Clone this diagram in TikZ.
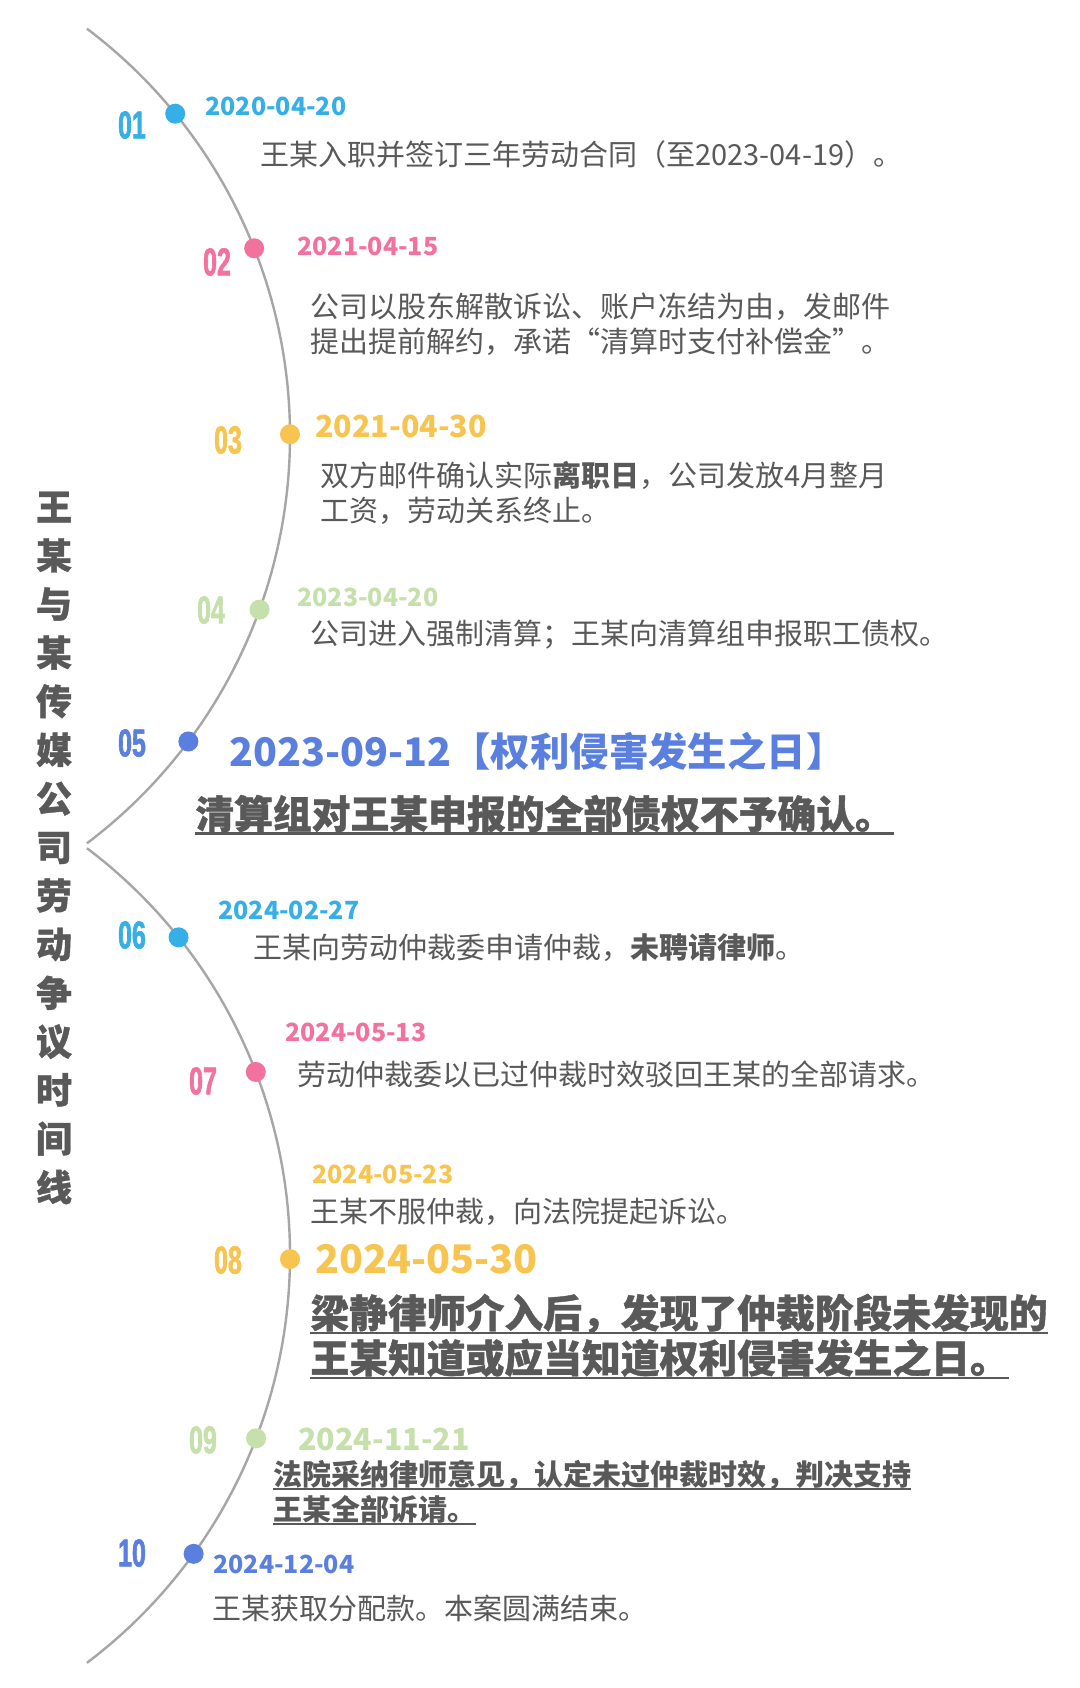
\documentclass[tikz,border=0pt]{standalone}
\usepackage{fontspec}
\setmainfont{Noto Sans CJK SC}
\newfontfamily\numfont[FakeStretch=0.64, FakeBold=1.5]{Liberation Sans Bold}
\newfontfamily\heavyfont[BoldFeatures={FakeBold=1}]{Noto Sans CJK SC}
\usetikzlibrary{calc}
\definecolor{tlblue}{RGB}{54,174,230}
\definecolor{tlpink}{RGB}{243,113,157}
\definecolor{tlyellow}{RGB}{247,196,79}
\definecolor{tlgreen}{RGB}{197,224,170}
\definecolor{tlnavy}{RGB}{90,127,222}
\definecolor{tlgray}{RGB}{89,89,89}
\definecolor{tlline}{RGB}{166,166,166}
\newcommand\ulbar[1]{\setbox0=\hbox{#1}\rlap{\rule[-0.17em]{\wd0}{0.07em}}\box0}
\tikzset{
  evdot/.style={circle, fill=#1, inner sep=0pt, minimum size=10pt},
  num/.style={text=#1, inner sep=0pt, font=\numfont\fontsize{19.5}{19.5}\selectfont},
  datesm/.style={text=#1, anchor=west, inner sep=0pt, font=\bfseries\fontsize{12.5}{12.5}\selectfont},
  datemd/.style={text=#1, anchor=west, inner sep=0pt, font=\bfseries\fontsize{15.2}{15.2}\selectfont},
  datelg/.style={text=#1, anchor=west, inner sep=0pt, font=\bfseries\fontsize{19.7}{19.7}\selectfont},
  body/.style={text=tlgray, anchor=west, inner sep=0pt, align=left, font=\fontsize{14.5}{17.5}\selectfont},
  heavy/.style={text=tlgray, anchor=west, inner sep=0pt, align=left, font=\heavyfont\bfseries\fontsize{19.4}{22.5}\selectfont}
}

\begin{document}
\begin{tikzpicture}[x=0.5pt,y=0.5pt]
	%%%%% START %%%%%
	\fill[white] (0,0) rectangle (1080,-1688);
	\useasboundingbox (0,0) rectangle (1080,-1688);
	
	\coordinate (c1) at (-220,-436);
	\coordinate (c2) at (-220,-1255.5);
	\draw[line width=1.2pt, color=tlline] ($(c1)+(53:510)$) arc[start angle=53, end angle=-53, radius=510];
	\draw[line width=1.2pt, color=tlline] ($(c2)+(53:510)$) arc[start angle=53, end angle=-53, radius=510];
	
	\node[text=tlgray, align=center, inner sep=0pt, font=\heavyfont\bfseries\fontsize{18}{24.3}\selectfont] (title) at (54,-848)
	{王\\某\\与\\某\\传\\媒\\公\\司\\劳\\动\\争\\议\\时\\间\\线};
	
	% 01
	\node[evdot=tlblue] (d1) at ($(c1)+(39.2:510)$) {};
	\node[num=tlblue] (n1) at (132,-125) {01};
	\node[datesm=tlblue] (t1) at (205,-106) {2020-04-20};
	\node[body] (b1) at (260,-154) {王某入职并签订三年劳动合同（至2023-04-19）。};
	
	% 02
	\node[evdot=tlpink] (d2) at ($(c1)+(21.6:510)$) {};
	\node[num=tlpink] (n2) at (217,-262) {02};
	\node[datesm=tlpink] (t2) at (297,-246) {2021-04-15};
	\node[body] (b2) at (310,-324.5) {公司以股东解散诉讼、账户冻结为由，发邮件\\提出提前解约，承诺“清算时支付补偿金”。};
	
	% 03
	\node[evdot=tlyellow] (d3) at ($(c1)+(0.2:510)$) {};
	\node[num=tlyellow] (n3) at (228,-440) {03};
	\node[datemd=tlyellow] (t3) at (315,-426) {2021-04-30};
	\node[body] (b3) at (320,-492.5) {双方邮件确认实际\textbf{离职日}，公司发放4月整月\\工资，劳动关系终止。};
	
	% 04
	\node[evdot=tlgreen] (d4) at ($(c1)+(-19.9:510)$) {};
	\node[num=tlgreen] (n4) at (211,-610) {04};
	\node[datesm=tlgreen] (t4) at (297,-597) {2023-04-20};
	\node[body] (b4) at (310,-635) {公司进入强制清算；王某向清算组申报职工债权。};
	
	% 05
	\node[evdot=tlnavy] (d5) at ($(c1)+(-36.8:510)$) {};
	\node[num=tlnavy] (n5) at (132,-743) {05};
	\node[datelg=tlnavy] (t5) at (229,-751) {2023-09-12【权利侵害发生之日】};
	\node[heavy] (b5) at (195,-815) {\ulbar{清算组对王某申报的全部债权不予确认。}};
	
	% 06
	\node[evdot=tlblue] (d6) at ($(c2)+(38.6:510)$) {};
	\node[num=tlblue] (n6) at (132,-935) {06};
	\node[datesm=tlblue] (t6) at (218,-910) {2024-02-27};
	\node[body] (b6) at (253,-948) {王某向劳动仲裁委申请仲裁，\textbf{未聘请律师}。};
	
	% 07
	\node[evdot=tlpink] (d7) at ($(c2)+(21.1:510)$) {};
	\node[num=tlpink] (n7) at (203,-1081) {07};
	\node[datesm=tlpink] (t7) at (285,-1032) {2024-05-13};
	\node[body] (b7) at (297,-1074) {劳动仲裁委以已过仲裁时效驳回王某的全部请求。};
	
	% 08
	\node[evdot=tlyellow] (d8) at ($(c2)+(-0.4:510)$) {};
	\node[num=tlyellow] (n8) at (228,-1260) {08};
	\node[datesm=tlyellow] (t8a) at (312,-1174) {2024-05-23};
	\node[body] (b8a) at (310,-1212) {王某不服仲裁，向法院提起诉讼。};
	\node[datelg=tlyellow] (t8) at (315,-1259) {2024-05-30};
	\node[heavy] (b8) at (310,-1336.5) {\ulbar{梁静律师介入后，发现了仲裁阶段未发现的}\\\ulbar{王某知道或应当知道权利侵害发生之日。}};
	
	% 09
	\node[evdot=tlgreen] (d9) at ($(c2)+(-21:510)$) {};
	\node[num=tlgreen] (n9) at (203,-1440) {09};
	\node[datemd=tlgreen] (t9) at (298,-1439) {2024-11-21};
	\node[body, font=\bfseries\fontsize{14.5}{17.5}\selectfont] (b9) at (273,-1492.5) {\ulbar{法院采纳律师意见，认定未过仲裁时效，判决支持}\\\ulbar{王某全部诉请。}};
	
	% 10
	\node[evdot=tlnavy] (d10) at ($(c2)+(-35.8:510)$) {};
	\node[num=tlnavy] (n10) at (132,-1553) {10};
	\node[datesm=tlnavy] (t10) at (213,-1564) {2024-12-04};
	\node[body] (b10) at (212,-1608) {王某获取分配款。本案圆满结束。};
	
	%%%%% END %%%%%
\end{tikzpicture}
\end{document}
